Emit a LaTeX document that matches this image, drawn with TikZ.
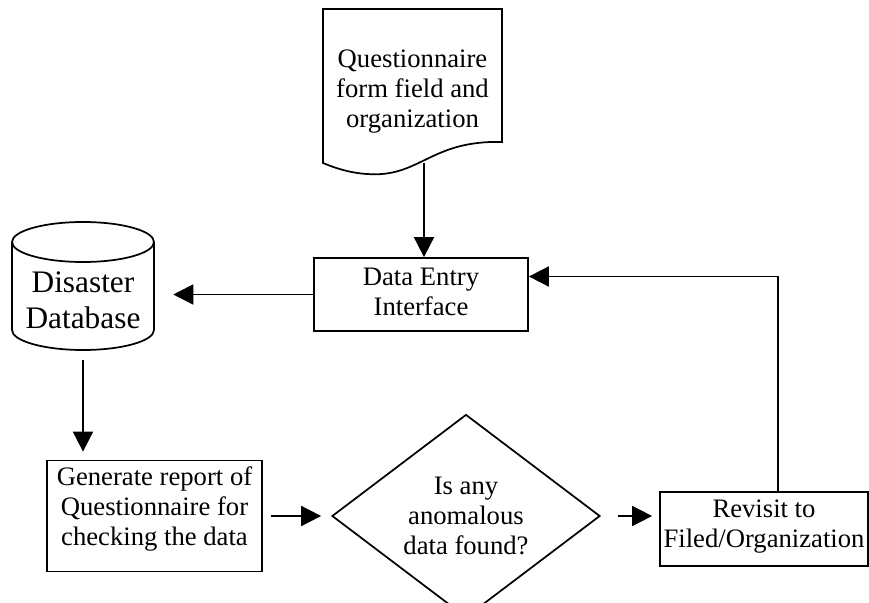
\documentclass[tikz,border=0pt]{standalone}
\usepackage{fontspec}
\setmainfont{Liberation Serif}
\usetikzlibrary{shapes.geometric,arrows.meta}

\tikzset{
  line/.style={draw=black, line width=1.3pt},
  arr/.style={line, -{Triangle[length=15pt,width=15pt]}},
  lbl/.style={font=\fontsize{20pt}{22.5pt}\selectfont, align=center, inner sep=0pt},
  procbox/.style={line, lbl, rectangle},
  decision/.style={line, lbl, diamond, inner sep=0pt},
}

\begin{document}
\begin{tikzpicture}[x=0.75pt, y=-0.75pt]
\useasboundingbox (0,0) rectangle (869,603);

% questionnaire form (document shape)
\node[lbl, minimum width=134.25pt, minimum height=106.5pt] (doc) at (412.5,92) {Questionnaire\\form field and\\organization};
\draw[line] (323,9) -- (502,9) -- (502,142)
  .. controls (430,140) and (420,178) .. (367,174)
  .. controls (350,173) and (335,168) .. (323,163) -- cycle;

% data entry interface
\node[procbox, minimum width=160.5pt, minimum height=54.75pt] (entry) at (421,294.5) {};
\node[lbl] (entrytext) at (421,291.5) {Data Entry\\Interface};

% disaster database (cylinder)
\draw[line] (12,242) -- (12,330)
  .. controls (12,341) and (44,350) .. (83,350)
  .. controls (122,350) and (154,341) .. (154,330) -- (154,242);
\draw[line] (83,242) ellipse [x radius=71, y radius=20];
\node[lbl, font=\fontsize{23.5pt}{27pt}\selectfont, minimum width=106.5pt, minimum height=75pt] (db) at (83,300) {Disaster\\Database};

% report generation
\node[procbox, minimum width=161.25pt, minimum height=83.25pt] (report) at (154.5,516) {};
\node[lbl] (reporttext) at (154.5,509) {Generate report of\\Questionnaire for\\checking the data};

% anomaly decision
\node[decision, minimum width=201pt, minimum height=139.5pt] (check) at (466,516) {Is any\\anomalous\\data found?};

% revisit step
\node[procbox, minimum width=156pt, minimum height=55.5pt] (revisit) at (764,529) {};
\node[lbl] (revisittext) at (764,527) {Revisit to\\Filed/Organization};

% connectors
\draw[arr] (doc.south -| 424,0) -- (entry.north -| 424,0);
\draw[arr, shorten >=14.25pt] (entry.west) -- (entry.west -| db.east);
\draw[arr, shorten <=7.5pt, shorten >=6pt] (db.south) -- (db.south |- report.north);
\draw[arr, shorten <=6pt, shorten >=7.5pt] (report.east) -- (check.west);
\draw[arr, shorten <=12.75pt, shorten >=5.25pt] (check.east) -- (check.east -| revisit.west);
\coordinate (fb) at (778,276.5);
\draw[arr] (revisit.north -| fb) -- (fb) -- (fb -| entry.east);
\end{tikzpicture}
\end{document}
